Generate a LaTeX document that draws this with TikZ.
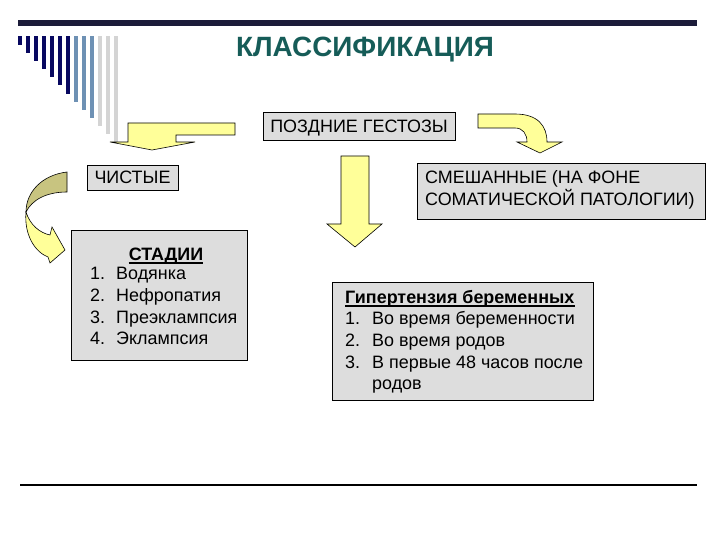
\documentclass[tikz,border=0pt]{standalone}
\usepackage{fontspec}
\setmainfont{Liberation Sans}
\definecolor{topdark}{RGB}{28,28,58}
\definecolor{navybar}{RGB}{8,8,96}
\definecolor{steelbar}{RGB}{110,145,180}
\definecolor{graybar}{RGB}{212,212,212}
\definecolor{titlecol}{RGB}{22,92,88}
\definecolor{boxgray}{RGB}{221,221,221}
\definecolor{arrowyellow}{RGB}{255,255,153}
\definecolor{arrowolive}{RGB}{200,196,128}
\begin{document}
\begin{tikzpicture}[x=1bp,y=-1bp,
  box/.style={draw=black, line width=0.8bp, fill=boxgray, inner sep=0, anchor=north west},
  txt/.style={inner sep=0, anchor=base west, font=\fontsize{18}{21}\selectfont},
  ctxt/.style={inner sep=0, anchor=base, font=\fontsize{18}{21}\selectfont},
  uline/.style={line width=1.1bp},
  blockarrow/.style={draw=black, line width=0.6bp, fill=arrowyellow, line join=miter}]
\useasboundingbox (0,0) rectangle (720,540);
% decorations
\fill[topdark] (18,20) rectangle (697,26);
\foreach \i/\c in {0/navybar,1/navybar,2/navybar,3/navybar,4/navybar,5/navybar,6/navybar,7/steelbar,8/steelbar,9/steelbar,10/graybar,11/graybar,12/graybar}{
  \fill[\c] ({18+8*\i},36) rectangle ({22+8*\i},{45+8.1*\i});
}
\draw[line width=1.5bp] (20,485) -- (697,485);
% title
\node[inner sep=0, anchor=base, font=\fontsize{28}{32}\selectfont\bfseries, text=titlecol] (title) at (365,57) {КЛАССИФИКАЦИЯ};
% boxes
\node[box, minimum width=192bp, minimum height=28bp] (pg) at (263,112) {};
\node[ctxt] (pgt) at (359,132.5) {ПОЗДНИЕ ГЕСТОЗЫ};
\node[box, minimum width=91bp, minimum height=25bp] (ch) at (87,165) {};
\node[ctxt] (cht) at (132.5,184) {ЧИСТЫЕ};
\node[box, minimum width=176bp, minimum height=130bp] (st) at (71,230) {};
\node[ctxt, font=\fontsize{18}{21}\selectfont\bfseries] (stt) at (166,260.5) {СТАДИИ};
\draw[uline] ([yshift=-2.5bp]stt.base west) -- ([yshift=-2.5bp]stt.base east);
\foreach \n/\t/\y in {1/Водянка/279.5,2/Нефропатия/301.5,3/Преэклампсия/323.5,4/Эклампсия/344.5}{
  \node[txt] (stn\n) at (90,\y) {\n.};
  \node[txt] (sti\n) at (116,\y) {\t};
}
\node[box, minimum width=288bp, minimum height=56bp] (sm) at (417,163) {};
\node[txt] (sm1) at (425,183.5) {СМЕШАННЫЕ (НА ФОНЕ};
\node[txt] (sm2) at (425,205.5) {СОМАТИЧЕСКОЙ ПАТОЛОГИИ)};
\node[box, minimum width=261bp, minimum height=118bp] (hy) at (332,282) {};
\node[txt, font=\fontsize{18}{21}\selectfont\bfseries] (hyt) at (345,303.5) {Гипертензия беременных};
\draw[uline] ([yshift=-2.5bp]hyt.base west) -- ([yshift=-2.5bp]hyt.base east);
\foreach \n/\t/\y in {1/Во время беременности/324.5,2/Во время родов/346.5,3/В первые 48 часов после/368.5}{
  \node[txt] (hyn\n) at (345,\y) {\n.};
  \node[txt] (hyi\n) at (372,\y) {\t};
}
\node[txt] (hyi4) at (372,389.5) {родов};
% arrows
\draw[blockarrow] (128,123) -- (235,123) -- (235,135) -- (176,135) -- (176,142) -- (195,142) -- (152,150) -- (110,142) -- (128,142) -- cycle;
\draw[blockarrow] (341,156) -- (369,156) -- (369,224) -- (382,224) -- (355,247) -- (327,224) -- (341,224) -- cycle;
\draw[blockarrow] (478,114) -- (515,114) .. controls (538,114) and (547,126) .. (547,142) -- (562,142) -- (540,153) -- (517,142) -- (527,142) .. controls (527,134) and (523,128) .. (515,128) -- (478,128) -- cycle;
\draw[blockarrow, fill=arrowolive] (67,172) .. controls (42,175) and (26,192) .. (26,212) .. controls (32,200) and (46,192) .. (67,192) -- cycle;
\draw[blockarrow] (26,212) .. controls (30,225) and (40,233) .. (50,235) -- (52,227) -- (65,250) -- (50,263) -- (48,257) .. controls (35,252) and (24,235) .. (26,212) -- cycle;
\end{tikzpicture}
\end{document}
